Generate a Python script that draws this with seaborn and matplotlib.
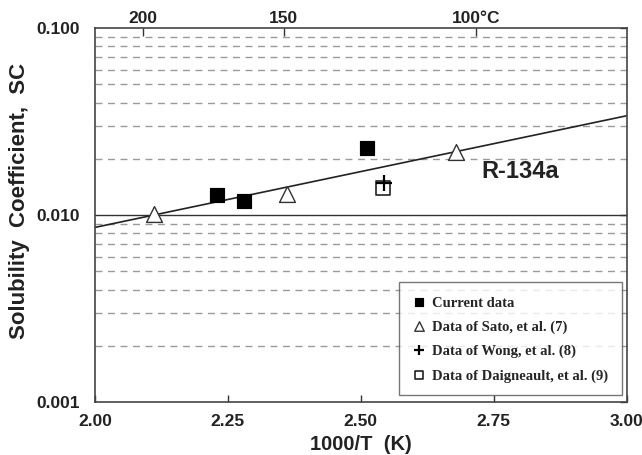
import matplotlib
matplotlib.use("Agg")
import matplotlib.pyplot as plt
import seaborn as sns
import numpy as np
import pandas as pd

# Data
current_x = [2.230, 2.281, 2.511]
current_y = [0.0128, 0.0119, 0.0228]
sato_x = [2.111, 2.362, 2.679]
sato_y = [0.0101, 0.0129, 0.0217]
wong_x = [2.543]
wong_y = [0.0149]
daig_x = [2.541]
daig_y = [0.0139]
fit_x = [2.00, 3.00]
fit_y = [0.0086, 0.0340]
top_tick_pos = [2.09, 2.355, 2.717]
top_tick_labels = ["200", "150", "100°C"]

sns.set_style("white")
plt.rcParams['font.family'] = ['Liberation Sans', 'DejaVu Sans']

fig = plt.figure(figsize=(6.42, 4.56), dpi=100)
ax = fig.add_axes([0.148, 0.116, 0.828, 0.820])

ax.set_yscale('log')
ax.set_xlim(2.0, 3.0)
ax.set_ylim(0.001, 0.1)

# grid lines
for dec in [0.001, 0.01]:
    for m in range(2, 10):
        ax.axhline(dec * m, color='#9a9a9a', lw=1.0, ls=(0, (5, 4)), zorder=0)
ax.axhline(0.01, color='#333333', lw=1.0, zorder=1)

sns.lineplot(x=fit_x, y=fit_y, ax=ax, color='#222222', lw=1.2, zorder=2)

sns.scatterplot(x=current_x, y=current_y, ax=ax, marker='s', s=110, color='black',
                edgecolor='black', zorder=4, label='Current data')
sns.scatterplot(x=sato_x, y=sato_y, ax=ax, marker='^', s=130, facecolor='white',
                edgecolor='#333333', linewidth=1.0, zorder=4, label='Data of Sato, et al. (7)')
sns.scatterplot(x=wong_x, y=wong_y, ax=ax, marker='+', s=120, color='black',
                linewidth=1.6, zorder=5, label='Data of Wong, et al. (8)')
sns.scatterplot(x=daig_x, y=daig_y, ax=ax, marker='s', s=110, facecolor='white',
                edgecolor='#222222', linewidth=1.2, zorder=4, label='Data of Daigneault, et al. (9)')

ax.text(2.726, 0.0160, 'R-134a', fontsize=17, fontweight='bold', color='#222222', va='baseline')

ax.set_xticks([2.0, 2.25, 2.5, 2.75, 3.0])
ax.set_xticklabels(['2.00', '2.25', '2.50', '2.75', '3.00'], fontsize=12.5, fontweight='bold', color='#222222')
ax.set_yticks([0.001, 0.01, 0.1])
ax.set_yticklabels(['0.001', '0.010', '0.100'], fontsize=12.5, fontweight='bold', color='#222222')
ax.yaxis.set_minor_locator(matplotlib.ticker.NullLocator())
ax.tick_params(axis='both', which='major', direction='in', length=5, width=1, color='#333333')
ax.tick_params(axis='y', which='major', left=False, right=True, pad=11)
ax.tick_params(axis='x', which='major', pad=8)
for lab in ax.get_yticklabels():
    lab.set_verticalalignment('center')

for s in ax.spines.values():
    s.set_color('#444444')
    s.set_linewidth(1.2)

ax.set_xlabel('1000/T  (K)', fontsize=14.5, fontweight='bold', color='#222222', labelpad=4)
ax.set_ylabel('Solubility  Coefficient,  SC', fontsize=16, fontweight='bold', color='#222222')
ax.yaxis.set_label_coords(-0.122, 0.54)

top = ax.twiny()
top.set_xlim(ax.get_xlim())
top.set_xticks(top_tick_pos)
top.set_xticklabels(top_tick_labels, fontsize=12.5, fontweight='bold', color='#222222')
top.tick_params(axis='x', direction='in', length=6, width=1, color='#333333', pad=2)
for s in top.spines.values():
    s.set_visible(False)

leg = ax.legend(loc='lower right', bbox_to_anchor=(0.9906, 0.019), borderaxespad=0,
                frameon=True, fancybox=False,
                prop={'family': 'Liberation Serif', 'weight': 'bold', 'size': 10.5},
                handletextpad=0.4, handlelength=1.0, borderpad=0.9, labelspacing=0.75,
                markerscale=0.6, edgecolor='#555555')
leg.get_frame().set_linewidth(1.0)

fig.savefig('out.png', dpi=100)
